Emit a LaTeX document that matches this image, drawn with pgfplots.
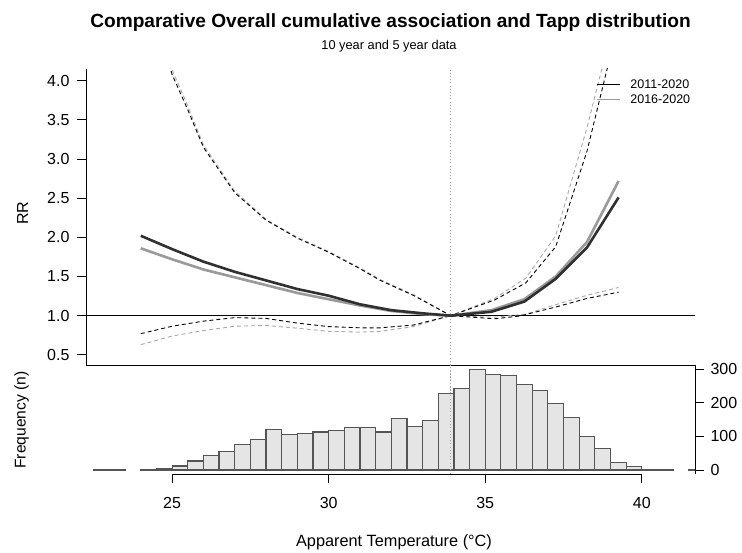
\documentclass[border=0pt]{standalone}
\usepackage{pgfplots}
\pgfplotsset{compat=1.18}
\usepackage{fontspec}
\setmainfont{Liberation Sans}
\definecolor{darkl}{HTML}{303030}
\definecolor{grayl}{HTML}{9A9A9A}
\definecolor{grayd}{HTML}{A8A8A8}
\definecolor{barfill}{HTML}{E5E5E5}
\definecolor{baredge}{HTML}{555555}
\pgfplotstableread{
x y
24 2.02
25 1.85
26 1.69
27 1.56
28 1.45
29 1.34
30 1.255
31 1.145
32 1.07
33 1.03
33.9 1.00
35.2 1.05
36.25 1.18
37.25 1.47
38.25 1.87
39.26 2.51
}\darksolid
\pgfplotstableread{
x y
24 1.86
25 1.72
26 1.59
27 1.49
28 1.39
29 1.29
30 1.21
31 1.13
32 1.06
33 1.02
33.9 1.00
35.2 1.07
36.25 1.21
37.25 1.50
38.25 1.94
39.26 2.72
}\graysolid
\pgfplotstableread{
x y
24 5.5
24.5 4.75
25 4.08
25.5 3.63
26 3.15
27 2.57
28 2.22
29 1.99
30 1.81
31 1.60
31.65 1.45
32.7 1.26
33.9 1.00
35.3 1.20
36.3 1.42
37.25 1.88
38.25 3.10
39.26 4.75
}\darkhigh
\pgfplotstableread{
x y
24 5.6
24.5 4.82
25 4.14
25.5 3.68
26 3.18
27 2.59
28 2.23
29 2.00
30 1.82
31 1.61
31.65 1.46
32.7 1.27
33.9 1.00
35.3 1.22
36.3 1.48
37.25 2.02
38.25 3.40
39.26 5.00
}\grayhigh
\pgfplotstableread{
x y
24 0.77
25 0.865
26 0.93
27 0.975
28 0.965
29 0.905
30 0.86
31 0.845
31.65 0.845
32.7 0.88
33.9 1.00
35.3 0.96
36.1 0.995
37.25 1.11
38.25 1.22
39.26 1.30
}\darklow
\pgfplotstableread{
x y
24 0.63
25 0.74
26 0.81
27 0.865
28 0.875
29 0.84
30 0.80
31 0.79
31.65 0.80
32.7 0.86
33.9 1.00
35.3 0.98
36.3 1.02
37.25 1.14
38.25 1.26
39.26 1.36
}\graylow
\pgfplotstableread{
x n
22.5 2
23 2
23.5 0
}\histA
\pgfplotstableread{
x n
24 2
24.5 5
25 12
25.5 27
26 44
26.5 54
27 76
27.5 91
28 121
28.5 106
29 109
29.5 113
30 118
30.5 127
31 127
31.5 113
32 154
32.5 130
33 148
33.5 228
34 243
34.5 300
35 285
35.5 282
36 255
36.5 237
37 198
37.5 157
38 100
38.5 63
39 23
39.5 10
40 2
40.5 2
41 0
}\histB
\pgfplotstableread{
x n
41.5 1
42 0
}\histC
\begin{document}
\begin{tikzpicture}[x=1pt,y=1pt]
\path[use as bounding box, fill=white] (0,0) rectangle (742,552);
% titles
\node[anchor=base, font=\fontsize{19.1}{22}\selectfont\bfseries, inner sep=0] at (390.5,524) {Comparative Overall cumulative association and Tapp distribution};
\node[anchor=base, font=\fontsize{12.8}{15}\selectfont, inner sep=0] at (389,502.5) {10 year and 5 year data};
\node[anchor=base, font=\fontsize{16.3}{19}\selectfont, inner sep=0] at (394,6) {Apparent Temperature (°C)};
\node[anchor=base, rotate=90, font=\fontsize{16}{19}\selectfont, inner sep=0] at (28,339) {RR};
\node[anchor=base, rotate=90, font=\fontsize{15.6}{19}\selectfont, inner sep=0] at (25.5,132) {Frequency (n)};
% upper panel
\begin{axis}[
  at={(86pt,187pt)}, anchor=south west, scale only axis,
  width=609pt, height=296pt,
  xmin=22.25, xmax=41.7, ymin=0.37, ymax=4.15,
  axis x line*=bottom, axis y line*=left,
  xtick=\empty,
  ytick={0.5,1,1.5,2,2.5,3,3.5,4},
  yticklabel style={xshift=-4pt, /pgf/number format/.cd, fixed, fixed zerofill, precision=1},
  tick align=outside, major tick length=9pt,
  tick style={black, line width=0.8pt},
  axis line style={black, line width=0.8pt, -},
  tick label style={font=\fontsize{16}{19}\selectfont},
  /pgf/number format/assume math mode=true,
]
\addplot[grayd, line width=0.9pt, dash pattern=on 1pt off 2.2pt, forget plot] coordinates {(33.9,0.37) (33.9,4.15)};
\addplot[black, line width=0.9pt, forget plot] coordinates {(22.25,1) (41.7,1)};
\addplot[grayd, line width=0.9pt, dash pattern=on 4pt off 3pt] table[x=x,y=y] {\grayhigh};
\addplot[grayd, line width=0.9pt, dash pattern=on 4pt off 3pt] table[x=x,y=y] {\graylow};
\addplot[black, line width=0.9pt, dash pattern=on 4pt off 3pt] table[x=x,y=y] {\darkhigh};
\addplot[black, line width=0.9pt, dash pattern=on 4pt off 3pt] table[x=x,y=y] {\darklow};
\addplot[grayl, line width=2.6pt] table[x=x,y=y] {\graysolid};
\addplot[darkl, line width=2.6pt] table[x=x,y=y] {\darksolid};
\draw[black, line width=0.9pt] (axis cs:38.56,3.95) -- (axis cs:39.31,3.95);
\draw[grayl, line width=0.9pt] (axis cs:38.56,3.76) -- (axis cs:39.31,3.76);
\node[anchor=west, font=\fontsize{12.5}{15}\selectfont, inner sep=0] at (axis cs:39.63,3.95) {2011-2020};
\node[anchor=west, font=\fontsize{12.5}{15}\selectfont, inner sep=0] at (axis cs:39.63,3.76) {2016-2020};
\end{axis}
% histogram panel
\begin{axis}[
  at={(86pt,78pt)}, anchor=south west, scale only axis,
  width=609pt, height=109pt,
  xmin=22.25, xmax=41.7, ymin=-12, ymax=312.9,
  axis x line*=bottom, axis y line*=right,
  x axis line style={draw=none},
  y axis line style={black, line width=0.8pt, -},
  xtick={25,30,35,40}, ytick={0,100,200,300},
  xticklabel style={yshift=-11pt},
  yticklabel style={xshift=3pt},
  tick align=outside, major tick length=9pt,
  tick style={black, line width=0.8pt},
  tick label style={font=\fontsize{16}{19}\selectfont},
  /pgf/number format/assume math mode=true,
]
\addplot[grayd, line width=0.9pt, dash pattern=on 1pt off 2.2pt, forget plot] coordinates {(33.9,-12) (33.9,312.9)};
\addplot[ybar interval, fill=barfill, draw=baredge, line width=1.2pt] table[x=x,y=n] {\histA};
\addplot[ybar interval, fill=barfill, draw=baredge, line width=1.2pt] table[x=x,y=n] {\histB};
\addplot[ybar interval, fill=barfill, draw=baredge, line width=1.2pt] table[x=x,y=n] {\histC};
\addplot[grayd, line width=0.9pt, dash pattern=on 1pt off 2.2pt, forget plot] coordinates {(33.9,0) (33.9,312.9)};
\draw[black, line width=0.8pt] (axis cs:25,-12) -- (axis cs:40,-12);
\end{axis}
\end{tikzpicture}
\end{document}
